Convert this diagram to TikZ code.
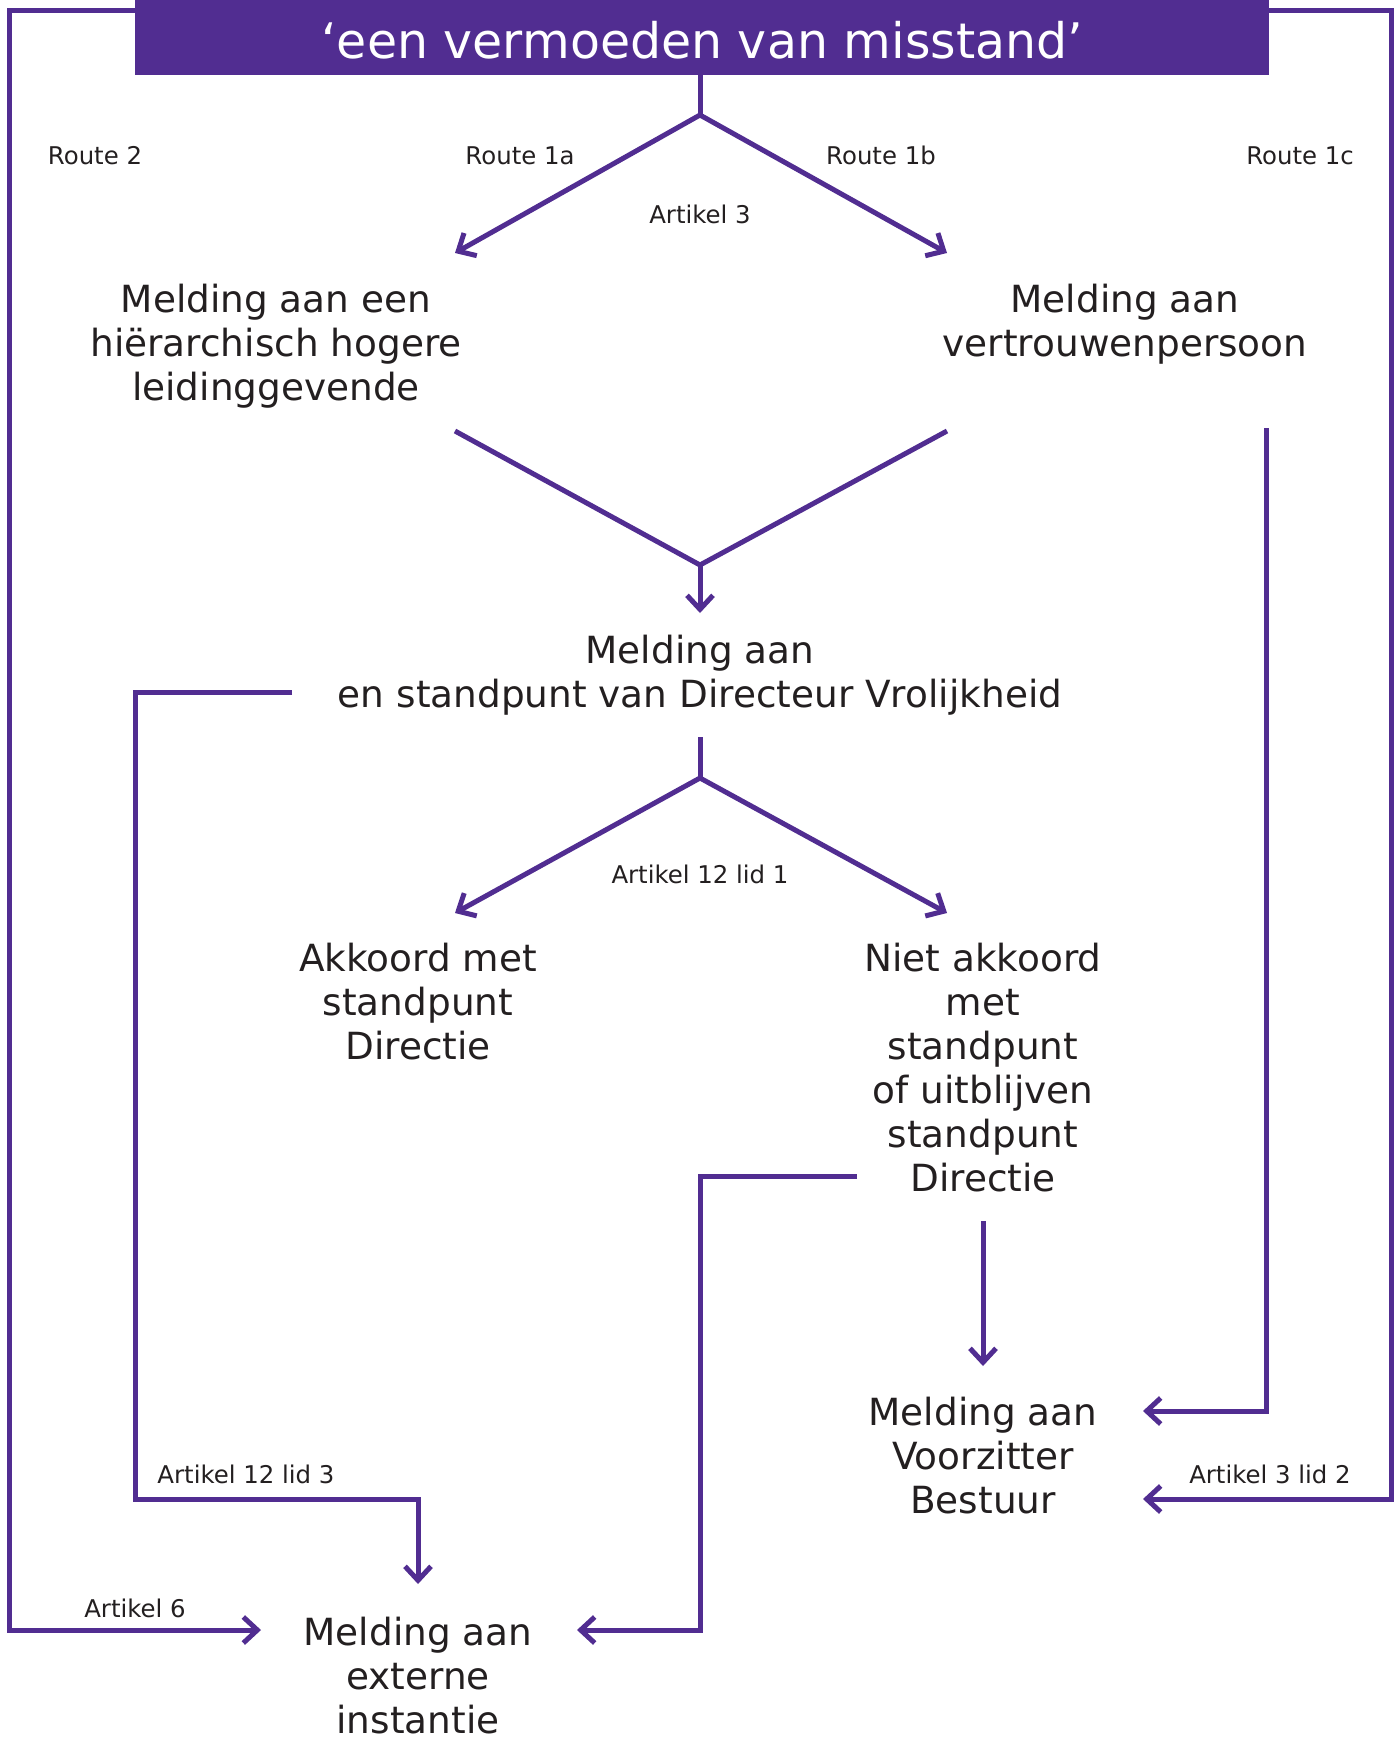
\documentclass[tikz,border=0pt]{standalone}
\usepackage{fontspec}
\setmainfont{DejaVu Sans}
\usetikzlibrary{arrows.meta,calc}
\definecolor{purp}{RGB}{81,45,145}
\definecolor{ink}{RGB}{35,31,32}
\tikzset{
  conn/.style={draw=purp,line width=5pt},
  arr/.style={conn,-{Straight Barb[length=14pt,width=26pt]}},
  box/.style={font=\fontsize{37.4}{44}\selectfont,align=center,inner sep=0pt,anchor=north,text=ink},
  lbl/.style={font=\fontsize{24.4}{28}\selectfont,inner sep=0pt,anchor=base,text=ink},
  banner/.style={fill=purp,text=white,font=\fontsize{49}{56}\selectfont,inner sep=0pt,
    minimum width=1134pt,minimum height=75pt,text height=41pt,text depth=0pt,anchor=north west}
}
\begin{document}
\begin{tikzpicture}[x=1pt,y=-1pt]
\useasboundingbox (0,0) rectangle (1395,1738);
% banner
\node[banner] (top) at (135,0) {‘een vermoeden van misstand’};
% boxes
\node[box] (hier) at (276,282) {\rule{0pt}{30pt}Melding aan een\\hiërarchisch hogere\\leidinggevende};
\node[box] (vert) at (1125,282) {\rule{0pt}{30pt}Melding aan\\vertrouwenpersoon};
\node[box] (dir) at (700,633) {\rule{0pt}{30pt}Melding aan\\en standpunt van Directeur Vrolijkheid};
\node[box] (akk) at (418,941) {\rule{0pt}{30pt}Akkoord met\\standpunt\\Directie};
\node[box] (niet) at (983,941) {\rule{0pt}{30pt}Niet akkoord\\met\\standpunt\\of uitblijven\\standpunt\\Directie};
\node[box] (voor) at (983,1395) {\rule{0pt}{30pt}Melding aan\\Voorzitter\\Bestuur};
\node[box] (ext) at (418,1615) {\rule{0pt}{30pt}Melding aan\\externe\\instantie};
% labels
\node[lbl] (r2) at (95,164) {Route 2};
\node[lbl] (r1a) at (520,164) {Route 1a};
\node[lbl] (r1b) at (881,164) {Route 1b};
\node[lbl] (r1c) at (1300,164) {Route 1c};
\node[lbl] (a3) at (700,223) {Artikel 3};
\node[lbl] (a121) at (700,883) {Artikel 12 lid 1};
\node[lbl] (a123) at (246,1483) {Artikel 12 lid 3};
\node[lbl] (a6) at (135,1617) {Artikel 6};
\node[lbl] (a32) at (1270,1483) {Artikel 3 lid 2};
% coordinates
\coordinate (apex1) at (700,115);
\coordinate (t1a) at (455,253);
\coordinate (t1b) at (947,253);
\coordinate (c1l) at (455,431);
\coordinate (c1r) at (947,431);
\coordinate (apex2) at (700,565);
\coordinate (t2) at (700,613);
\coordinate (dl0) at (292,692);
\coordinate (dl1) at (135,692);
\coordinate (dl2) at (135,1499);
\coordinate (dl3) at (418,1499);
\coordinate (t3) at (418,1584);
\coordinate (dv0) at (700,737);
\coordinate (apex3) at (700,778);
\coordinate (t4a) at (455,913);
\coordinate (t4b) at (947,913);
\coordinate (nl0) at (857,1176);
\coordinate (nl1) at (700,1176);
\coordinate (nl2) at (700,1630);
\coordinate (t5) at (577,1630);
\coordinate (nd0) at (983,1221);
\coordinate (t6) at (983,1366);
\coordinate (rc0) at (1266,428);
\coordinate (rc1) at (1266,1411);
\coordinate (t7) at (1143,1411);
\coordinate (ro1) at (1391,10);
\coordinate (ro2) at (1391,1499);
\coordinate (t8) at (1143,1499);
\coordinate (lo1) at (9,10);
\coordinate (lo2) at (9,1630);
\coordinate (t9) at (261,1630);
% connectors
\draw[conn] (top.south -| apex1) -- (apex1);
\draw[arr] (apex1) -- (t1a);
\draw[arr] (apex1) -- (t1b);
\draw[conn] (c1l) -- (apex2) -- (c1r);
\draw[arr] (apex2) -- (t2);
\draw[arr] (dl0) -- (dl1) -- (dl2) -- (dl3) -- (t3);
\draw[conn] (dv0) -- (apex3);
\draw[arr] (apex3) -- (t4a);
\draw[arr] (apex3) -- (t4b);
\draw[arr] (nl0) -- (nl1) -- (nl2) -- (t5);
\draw[arr] (nd0) -- (t6);
\draw[arr] (rc0) -- (rc1) -- (t7);
\draw[arr] ($(top.north east)+(0,10)$) -- (ro1) -- (ro2) -- (t8);
\draw[arr] ($(top.north west)+(0,10)$) -- (lo1) -- (lo2) -- (t9);
\end{tikzpicture}
\end{document}
